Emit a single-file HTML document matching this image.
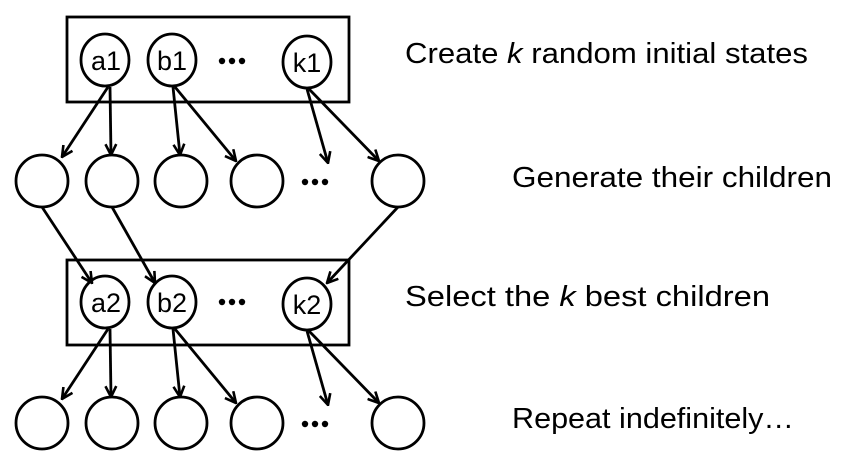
<!DOCTYPE html>
<html><head><meta charset="utf-8"><style>body{margin:0;background:#fff}svg{display:block}</style></head><body>
<svg width="866" height="470" viewBox="0 0 866 470" xmlns="http://www.w3.org/2000/svg">
<defs><marker id="ah" viewBox="0 0 12 12" refX="11" refY="6" markerWidth="13" markerHeight="13" markerUnits="userSpaceOnUse" orient="auto"><path d="M1,1 L11,6 L1,11" fill="none" stroke="#000" stroke-width="2.4"/></marker></defs>
<g fill="none" stroke="#000" stroke-width="2.8">
<rect x="67" y="17" width="282" height="85"/>
<rect x="67" y="260" width="282" height="85"/>
<ellipse cx="105" cy="60" rx="24" ry="26"/><ellipse cx="172" cy="60" rx="24" ry="26"/><ellipse cx="307" cy="62" rx="24" ry="26"/>
<ellipse cx="105" cy="302" rx="24" ry="26"/><ellipse cx="172" cy="302" rx="24" ry="26"/><ellipse cx="307" cy="304" rx="24" ry="26"/>
<g>
<ellipse cx="42" cy="181" rx="26" ry="26"/><ellipse cx="112" cy="181" rx="26" ry="26"/><ellipse cx="181" cy="181" rx="26" ry="26"/><ellipse cx="257" cy="181" rx="26" ry="26"/><ellipse cx="398" cy="181" rx="26" ry="26"/>
</g>
<g>
<ellipse cx="42" cy="423" rx="26" ry="26"/><ellipse cx="112" cy="423" rx="26" ry="26"/><ellipse cx="181" cy="423" rx="26" ry="26"/><ellipse cx="257" cy="423" rx="26" ry="26"/><ellipse cx="398" cy="423" rx="26" ry="26"/>
</g>
</g>
<g stroke="#000" stroke-width="2.8" fill="none" marker-end="url(#ah)">
<line x1="108" y1="87" x2="62" y2="157"/><line x1="110" y1="87" x2="111" y2="155"/>
<line x1="173" y1="87" x2="180" y2="155"/><line x1="175" y1="87" x2="236" y2="161"/>
<line x1="307" y1="89" x2="328" y2="163"/><line x1="309" y1="89" x2="379" y2="161"/>
<line x1="42" y1="207" x2="92" y2="283"/><line x1="112" y1="207" x2="155" y2="283"/><line x1="398" y1="207" x2="327" y2="283"/>
<line x1="108" y1="329" x2="62" y2="399"/><line x1="110" y1="329" x2="111" y2="397"/>
<line x1="173" y1="329" x2="180" y2="397"/><line x1="175" y1="329" x2="236" y2="403"/>
<line x1="307" y1="331" x2="328" y2="405"/><line x1="309" y1="331" x2="379" y2="403"/>
</g>
<g font-family="Liberation Sans, sans-serif" font-size="27" text-anchor="middle">
<text x="106" y="70">a1</text><text x="172" y="70">b1</text><text x="307" y="72">k1</text>
<text x="106" y="312">a2</text><text x="172" y="312">b2</text><text x="307" y="314">k2</text>
</g>
<g fill="#000">
<circle cx="222" cy="61" r="3.2"/><circle cx="232" cy="61" r="3.2"/><circle cx="242" cy="61" r="3.2"/>
<circle cx="222" cy="302" r="3.2"/><circle cx="232" cy="302" r="3.2"/><circle cx="242" cy="302" r="3.2"/>
<circle cx="305" cy="182" r="3.2"/><circle cx="315" cy="182" r="3.2"/><circle cx="325" cy="182" r="3.2"/>
<circle cx="305" cy="424" r="3.2"/><circle cx="315" cy="424" r="3.2"/><circle cx="325" cy="424" r="3.2"/>
</g>
<g font-family="Liberation Sans, sans-serif" font-size="29" fill="#000">
<text x="405" y="63" textLength="403" lengthAdjust="spacingAndGlyphs">Create <tspan font-style="italic">k</tspan> random initial states</text>
<text x="512" y="187" textLength="320" lengthAdjust="spacingAndGlyphs">Generate their children</text>
<text x="405" y="306" textLength="365" lengthAdjust="spacingAndGlyphs">Select the <tspan font-style="italic">k</tspan> best children</text>
<text x="512" y="428" textLength="282" lengthAdjust="spacingAndGlyphs">Repeat indefinitely…</text>
</g>
</svg>
</body></html>
